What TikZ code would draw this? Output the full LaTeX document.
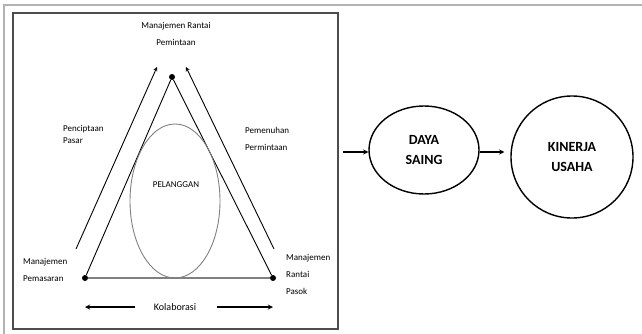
\documentclass[tikz,border=0pt]{standalone}
\usepackage{fontspec}
\setmainfont{Carlito}
\usetikzlibrary{positioning, shapes.geometric}
\tikzset{
>=stealth, % arrow heads as in the figure
x=1pt, y=-1pt, % one unit per pixel, y downwards
dot/.style={circle, fill=black, inner sep=0pt, minimum size=6pt}, % corner points of the triangle
lbl/.style={font=\fontsize{9}{17}\selectfont, align=left, inner sep=0pt}, % small side labels
bubble/.style={draw, line width=1.4pt, font=\fontsize{14}{20}\selectfont\bfseries, align=center}, % result nodes
}

\begin{document}
\begin{tikzpicture}
        \useasboundingbox (0,0) rectangle (642,334);
        % frames
        \draw[gray!60, line width=2pt] (642,5) -- (4,5) -- (4,334);
        \draw[black!70, line width=1.3pt] (13,13) rectangle (338,329);

        % triangle
        \node[dot] (puncak) at (172,77) {};
        \node[dot] (pemasaran) at (85,278) {};
        \node[dot] (pasok) at (273,278) {};
        \draw[line width=0.9pt] (pemasaran) -- (puncak) -- (pasok);
        \draw[gray, line width=1.3pt] (pemasaran) -- (pasok);
        \node[draw=gray, line width=0.9pt, ellipse, minimum width=90pt, minimum height=154pt] (pelanggan) at (175,201) {};
        \node[font=\fontsize{9}{10}\selectfont] at (176,185) {PELANGGAN};

        \coordinate (kiriBawah) at (76,249);
        \coordinate (kiriAtas) at (157,67);
        \coordinate (kananBawah) at (274,249);
        \coordinate (kananAtas) at (186,67);
        \draw[->, line width=0.9pt] (kiriBawah) -- (kiriAtas);
        \draw[->, line width=0.9pt] (kananBawah) -- (kananAtas);

        \node[lbl, align=center] (rantaiPermintaan) at (176,34) {Manajemen Rantai\\Pemintaan};
        \node[lbl, anchor=west, font=\fontsize{9}{12}\selectfont] (penciptaan) at (63,134) {Penciptaan\\Pasar};
        \node[lbl, anchor=west] (pemenuhan) at (245,139) {Pemenuhan\\Permintaan};
        \node[lbl, anchor=west] (manPemasaran) at (23,270) {Manajemen\\Pemasaran};
        \node[lbl, anchor=west] (manPasok) at (286,274) {Manajemen\\Rantai\\Pasok};

        \node[font=\fontsize{10}{12}\selectfont] (kolaborasi) at (175,307) {Kolaborasi};
        \coordinate (kolKiri) at (85,307);
        \coordinate (kolKanan) at (273,307);
        \draw[->, line width=1.3pt] (135,307) -- (kolKiri);
        \draw[->, line width=1.3pt] (217,307) -- (kolKanan);

        % right part
        \node[bubble, ellipse, minimum width=110pt, minimum height=88pt] (saing) at (424,150) {DAYA\\SAING};
        \node[bubble, circle, minimum size=122pt] (kinerja) at (572,157) {KINERJA\\USAHA};
        \coordinate (masuk) at (343,152);
        \draw[->, line width=1.3pt] (masuk) -- (saing.west |- masuk);
        \draw[->, line width=1.3pt, shorten >=6pt] (saing.east |- masuk) -- (kinerja.west |- masuk);
    \end{tikzpicture}
\end{document}
